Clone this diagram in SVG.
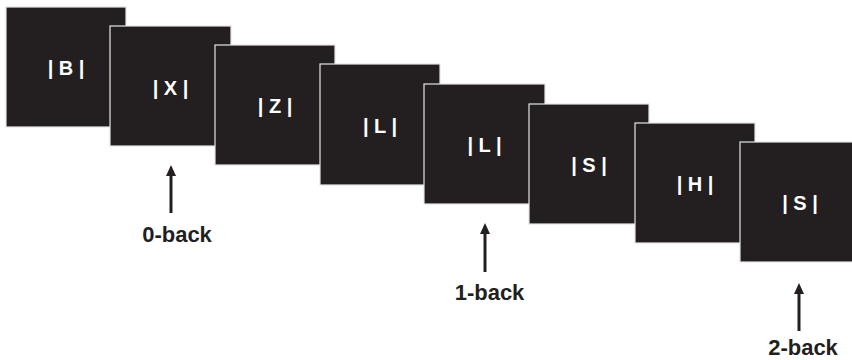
<svg xmlns="http://www.w3.org/2000/svg" width="852" height="360" viewBox="0 0 852 360">
  <style>
    .card { fill: #231f20; stroke: #e4e4e4; stroke-width: 1.2; }
    .letter { fill: #ffffff; font-family: "Liberation Sans", Arial, sans-serif; font-weight: bold; font-size: 20px; text-anchor: middle; white-space: pre; }
    .label { fill: #231f20; font-family: "Liberation Sans", Arial, sans-serif; font-weight: bold; font-size: 22px; text-anchor: middle; }
    .pointer { stroke: #231f20; stroke-width: 3; fill: none; marker-end: url(#head); }
  </style>
  <defs>
    <!-- triangular head, drawn pointing along the line direction -->
    <marker id="head" viewBox="0 0 11 10" refX="1" refY="5" markerWidth="11" markerHeight="10" markerUnits="userSpaceOnUse" orient="auto">
      <path d="M0,0 L11,5 L0,10 Z" fill="#231f20"/>
    </marker>
  </defs>

  <rect width="852" height="360" fill="#ffffff"/>

  <!-- stimulus sequence, each card overlapping the previous one -->
  <g id="card-1"><rect class="card" x="6" y="7" width="120" height="120"/><text class="letter" x="66" y="75">| B |</text></g>
  <g id="card-2"><rect class="card" x="110" y="26" width="121" height="120"/><text class="letter" x="170.5" y="95">| X |</text></g>
  <g id="card-3"><rect class="card" x="215" y="45" width="120" height="120"/><text class="letter" x="275" y="113">| Z |</text></g>
  <g id="card-4"><rect class="card" x="320" y="64" width="120" height="121"/><text class="letter" x="380" y="133">| L |</text></g>
  <g id="card-5"><rect class="card" x="424" y="84" width="121" height="120"/><text class="letter" x="484.5" y="152">| L |</text></g>
  <g id="card-6"><rect class="card" x="529" y="104" width="120" height="120"/><text class="letter" x="589" y="172">| S |</text></g>
  <g id="card-7"><rect class="card" x="635" y="123" width="120" height="120"/><text class="letter" x="695" y="191">| H |</text></g>
  <g id="card-8"><rect class="card" x="740" y="142" width="120" height="120"/><text class="letter" x="800" y="210">| S |</text></g>

  <!-- pointers under the target cards -->
  <g id="connectors">
    <line class="pointer" x1="171" y1="213" x2="171" y2="175"/>
    <line class="pointer" x1="485" y1="272" x2="485" y2="233"/>
    <line class="pointer" x1="799" y1="331" x2="799" y2="293"/>
  </g>

  <g id="label-0back"><text class="label" x="177" y="242">0-back</text></g>
  <g id="label-1back"><text class="label" x="489.5" y="300">1-back</text></g>
  <g id="label-2back"><text class="label" x="803" y="355">2-back</text></g>
</svg>
